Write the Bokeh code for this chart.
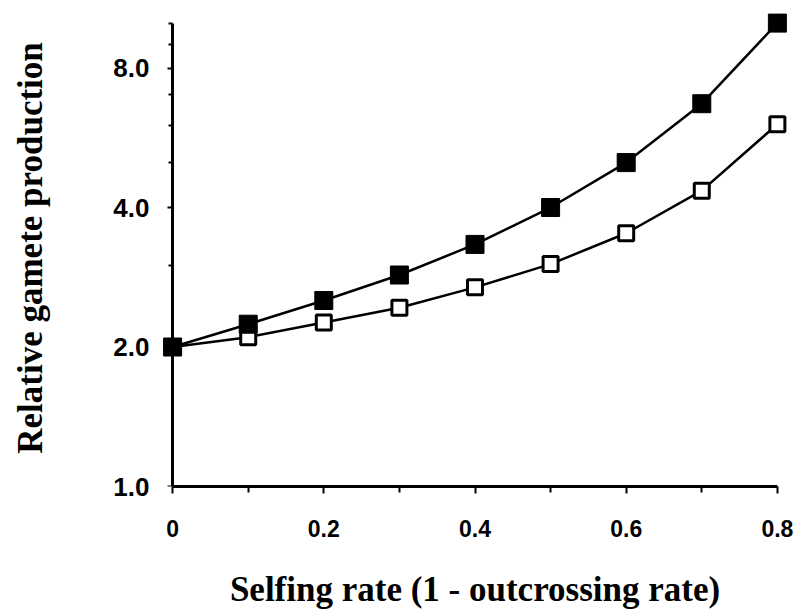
from bokeh.plotting import figure
from bokeh.models import FixedTicker, Range1d, LogAxis
from bokeh.embed import file_html
from bokeh.resources import INLINE

# Data
selfing_rate = [0.0, 0.1, 0.2, 0.3, 0.4, 0.5, 0.6, 0.7, 0.8]
filled_series = [2.0, 2.24, 2.52, 2.86, 3.33, 4.0, 5.0, 6.7, 10.0]
open_series = [2.0, 2.1, 2.26, 2.43, 2.69, 3.02, 3.52, 4.35, 6.05]

x_ticks = [0.0, 0.2, 0.4, 0.6, 0.8]
x_minor = [0.1, 0.3, 0.5, 0.7]
x_tick_labels = ["0", "0.2", "0.4", "0.6", "0.8"]
y_ticks = [1, 2, 4, 8]
y_minor = [3, 5, 6, 7, 9, 10]
y_tick_labels = ["1.0", "2.0", "4.0", "8.0"]

p = figure(width=800, height=615,
           x_range=Range1d(-0.02, 0.82), y_range=Range1d(1, 10.7),
           y_axis_type="log",
           output_backend="svg", toolbar_location=None,
           min_border_left=157, min_border_right=8,
           min_border_top=9, min_border_bottom=129)
p.grid.visible = False
p.outline_line_color = None
p.background_fill_color = "white"
p.border_fill_color = "white"

p.line(selfing_rate, open_series, line_width=2.5, line_color="black")
p.line(selfing_rate, filled_series, line_width=2.5, line_color="black")
p.scatter(selfing_rate, open_series, marker="square", size=15,
          fill_color="white", line_color="black", line_width=3)
p.scatter(selfing_rate, filled_series, marker="square", size=18,
          fill_color="black", line_color="black")

# X axis
xa = p.xaxis[0]
xa.ticker = FixedTicker(ticks=x_ticks, minor_ticks=x_minor)
xa.major_label_overrides = {t: l for t, l in zip(x_ticks, x_tick_labels)}
xa.bounds = (0, 0.8)
xa.axis_line_width = 3
xa.axis_line_color = "black"
xa.major_tick_in = 0
xa.major_tick_out = 7
xa.minor_tick_in = 0
xa.minor_tick_out = 6
xa.major_tick_line_width = 2
xa.minor_tick_line_width = 2
xa.major_label_text_font = "Liberation Sans"
xa.major_label_text_font_style = "bold"
xa.major_label_text_font_size = "23px"
xa.major_label_text_color = "black"
xa.major_label_standoff = 26
xa.axis_label = "Selfing rate (1 - outcrossing rate)"
xa.axis_label_text_font = "Liberation Serif"
xa.axis_label_text_font_style = "bold"
xa.axis_label_text_font_size = "35px"
xa.axis_label_text_color = "black"
xa.axis_label_standoff = 30

# Y axis (left panel): carries labels and title only
ya = p.yaxis[0]
ya.ticker = FixedTicker(ticks=y_ticks, minor_ticks=y_minor)
ya.major_label_overrides = {t: l for t, l in zip(y_ticks, y_tick_labels)}
ya.axis_line_color = None
ya.major_tick_line_color = None
ya.minor_tick_line_color = None
ya.major_tick_in = 0
ya.major_tick_out = 0
ya.minor_tick_in = 0
ya.minor_tick_out = 0
ya.major_label_text_font = "Liberation Sans"
ya.major_label_text_font_style = "bold"
ya.major_label_text_font_size = "26px"
ya.major_label_text_color = "black"
ya.major_label_standoff = 8
ya.axis_label = "Relative gamete production"
ya.axis_label_text_font = "Liberation Serif"
ya.axis_label_text_font_style = "bold"
ya.axis_label_text_font_size = "35px"
ya.axis_label_text_color = "black"
ya.axis_label_standoff = 60

# Y axis line at x = 0 with outward ticks
yline = LogAxis(ticker=FixedTicker(ticks=y_ticks, minor_ticks=y_minor),
                fixed_location=0, bounds=(1, 10))
yline.axis_line_width = 3
yline.axis_line_color = "black"
yline.major_tick_in = 5
yline.major_tick_out = 0
yline.minor_tick_in = 4
yline.minor_tick_out = 0
yline.major_tick_line_width = 2
yline.minor_tick_line_width = 2
yline.major_label_text_font_size = "0px"
yline.major_label_text_color = None
yline.major_label_standoff = 0
p.add_layout(yline, "right")

open("out.html", "w").write(file_html(p, INLINE))
